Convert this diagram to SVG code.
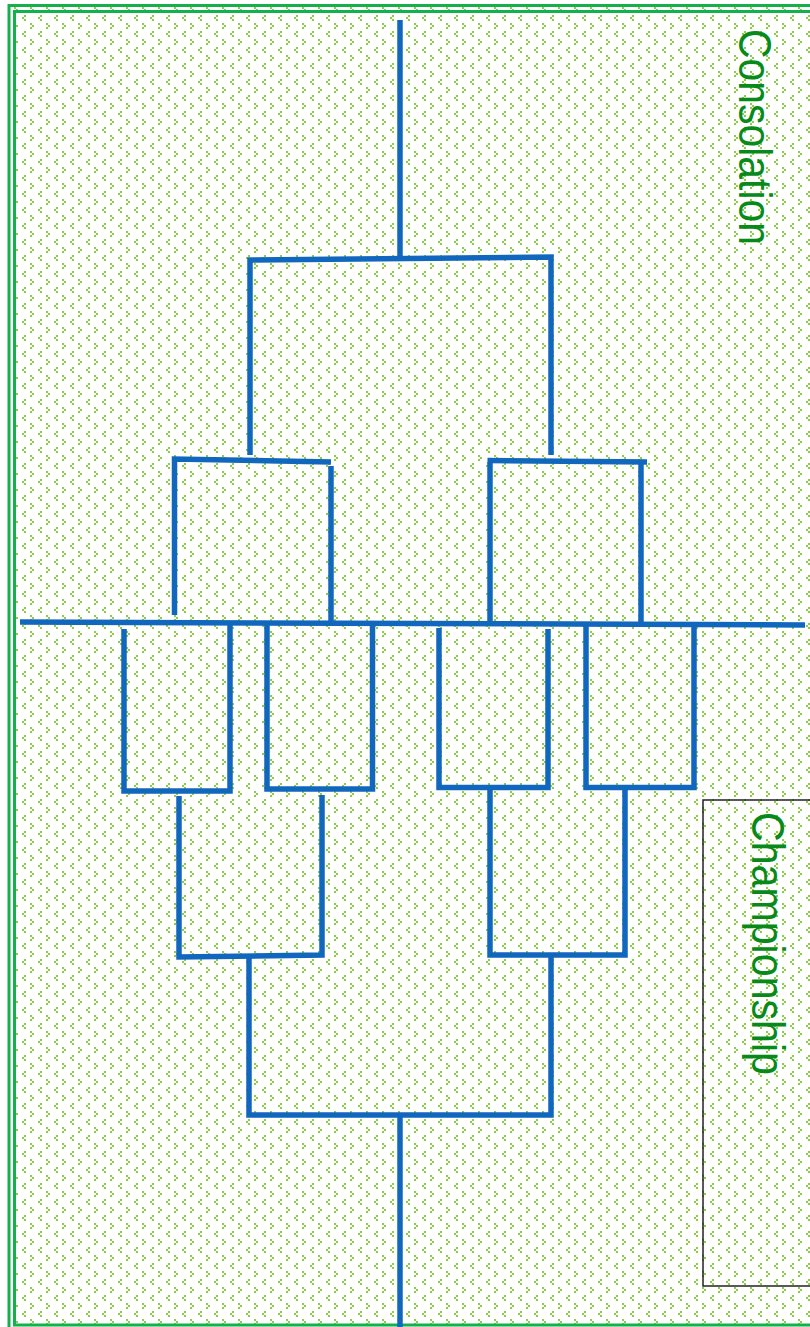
<svg xmlns="http://www.w3.org/2000/svg" width="810" height="1327" viewBox="0 0 810 1327">
  <defs>
    <pattern id="dots" patternUnits="userSpaceOnUse" x="4" y="5" width="16" height="16">
      <g fill="#8ccf44">
        <rect x="10" y="2" width="2" height="2"/>
        <rect x="12" y="4" width="2" height="2"/>
        <rect x="10" y="6" width="2" height="2"/>
        <rect x="4" y="10" width="2" height="2"/>
        <rect x="2" y="12" width="2" height="2"/>
        <rect x="4" y="14" width="2" height="2"/>
      </g>
    </pattern>
  </defs>
  <style>
    .frame { fill: none; stroke: #14b04c; stroke-width: 3; }
    .br { fill: none; stroke: #1067bd; stroke-width: 5.5; stroke-linejoin: miter; stroke-linecap: butt; }
    .lbl { font-family: "Liberation Sans", Arial, sans-serif; font-size: 46px; fill: #088a1a; }
  </style>
  <rect x="0" y="0" width="810" height="1327" fill="#ffffff"/>
  <g id="background">
    <rect x="9" y="5.5" width="820" height="1340" fill="url(#dots)"/>
    <rect class="frame" x="9" y="5.5" width="820" height="1340" stroke-width="3.5"/>
    <rect class="frame" x="14.5" y="11.5" width="820" height="1313.5"/>
  </g>
  <g id="championship-box">
    <rect x="703" y="800" width="130" height="486" fill="none" stroke="#222" stroke-width="1.5"/>
  </g>
  <g id="connectors">
    <path class="br" d="M400,20 V259"/>
    <path class="br" d="M250,455 V260 L551,257 V455"/>
    <path class="br" d="M174.5,615 V459 L331,462"/>
    <path class="br" d="M331,466 V623"/>
    <path class="br" d="M490,623 V462"/>
    <path class="br" d="M487.5,460.5 L647,462"/>
    <path class="br" d="M641,462 V623"/>
    <path class="br" d="M20,622 L805,625"/>
    <path class="br" d="M124,629 V791 H230 V625"/>
    <path class="br" d="M267,625 V789 H372.5 V625"/>
    <path class="br" d="M439,628 V787.5 H548 V629"/>
    <path class="br" d="M586,625 V787.5 H694 V625"/>
    <path class="br" d="M179,796 V957 L322,955 V795"/>
    <path class="br" d="M490,790 V955 H625 V790"/>
    <path class="br" d="M249,957 V1115 H551 V955"/>
    <path class="br" d="M400,1115 V1327"/>
  </g>
  <g id="label-consolation">
    <text class="lbl" transform="translate(739,29) rotate(90)" textLength="216" lengthAdjust="spacingAndGlyphs">Consolation</text>
  </g>
  <g id="label-championship">
    <text class="lbl" transform="translate(752,812) rotate(90)" textLength="263" lengthAdjust="spacingAndGlyphs">Championship</text>
  </g>
</svg>
